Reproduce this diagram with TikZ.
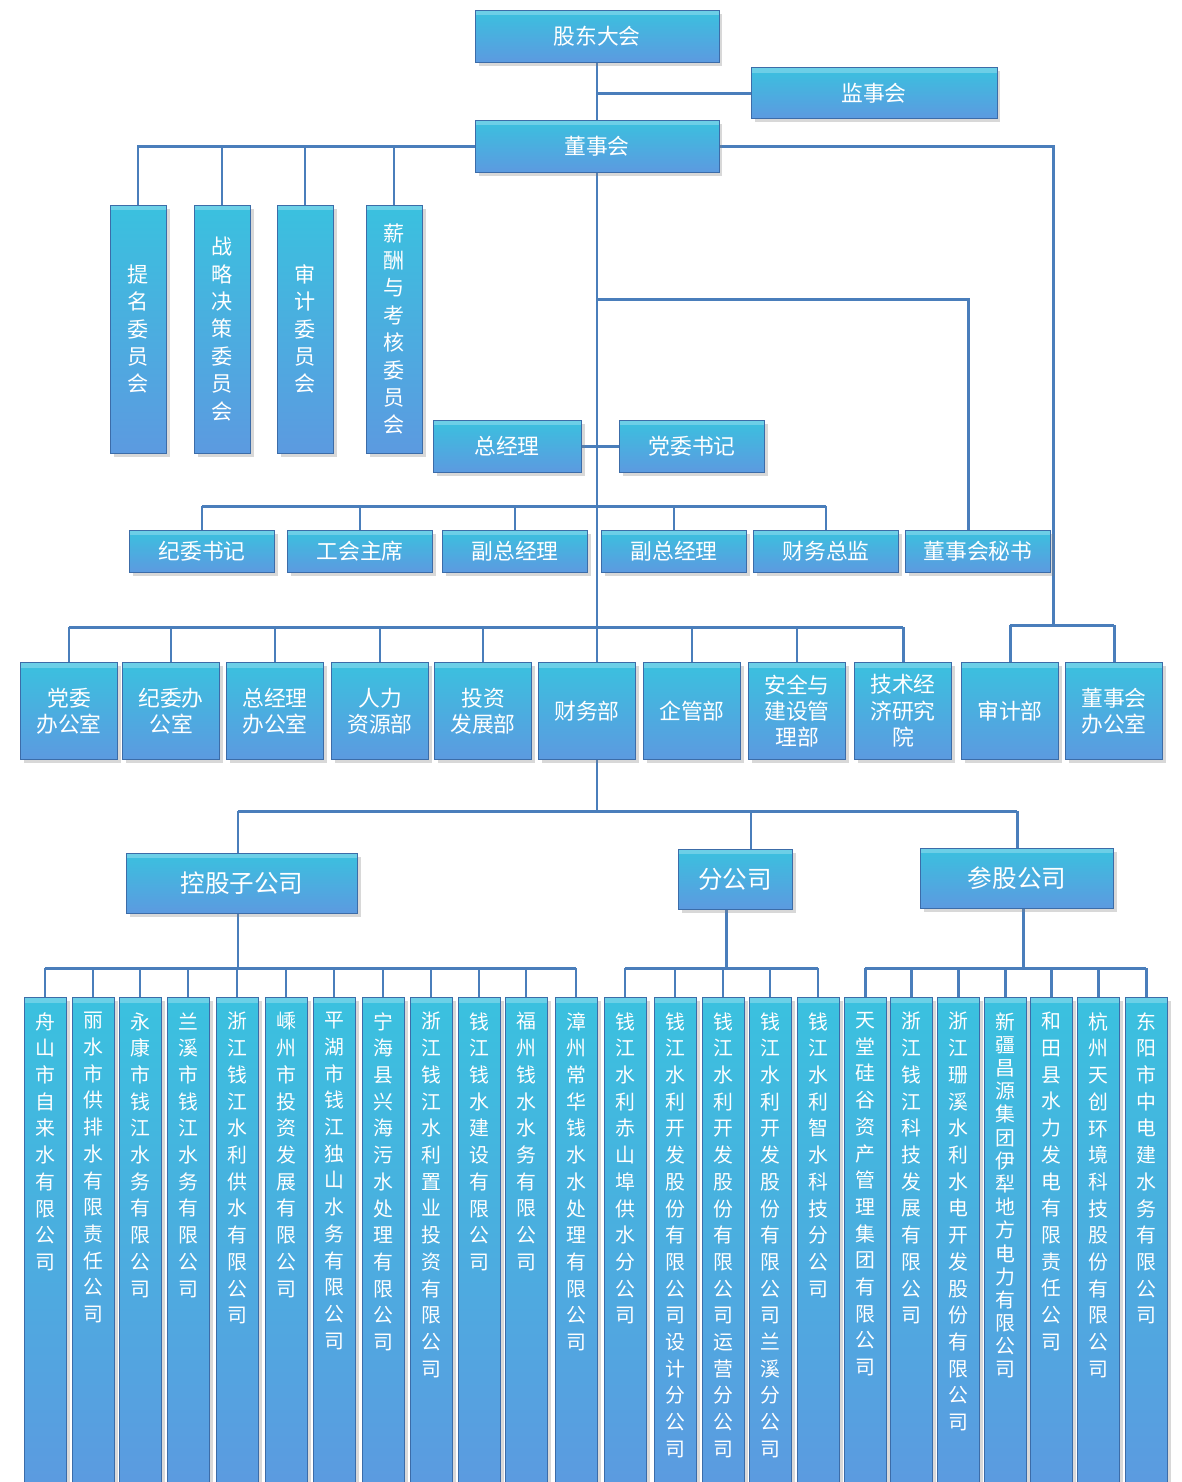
\documentclass[tikz,border=0pt]{standalone}
\usepackage{fontspec}
\setmainfont{Noto Sans CJK SC}
\usepackage{tikz}
\usetikzlibrary{shadows,backgrounds,calc}

\definecolor{boxtop}{RGB}{58,193,223}
\definecolor{boxbot}{RGB}{92,154,224}
\definecolor{boxedge}{RGB}{60,108,168}
\definecolor{wirecol}{RGB}{74,126,187}

% one character per line
\def\vchars#1{\vcharsi#1\relax}
\def\vcharsi#1#2{#1\ifx\relax#2\else\\\expandafter\vcharsi\expandafter#2\fi}

\begin{document}
\begin{tikzpicture}[x=0.02cm, y=-0.02cm,
    box/.style={draw=boxedge, line width=0.4pt, top color=boxtop, bottom color=boxbot,
        text=white, inner sep=0pt, align=center,
        drop shadow={opacity=0.3, shadow xshift=2pt, shadow yshift=-2pt},
        path picture={\fill[white, opacity=0.25] (path picture bounding box.north west)
            rectangle ([yshift=-3pt]path picture bounding box.north east);}},
    wire/.style={draw=wirecol, line width=1.7pt},
    vtext/.style={text=white, inner sep=0pt, align=center},
    big/.style={font=\fontsize{12.4}{15}\selectfont},
    head/.style={font=\fontsize{14}{16}\selectfont}]
    \useasboundingbox (0,0) rectangle (1181,1482);

    % top
    \node[box, big, minimum width=4.88cm, minimum height=1.04cm] (gddh) at (597,36) {股东大会};
    \node[box, big, minimum width=4.92cm, minimum height=1.02cm] (jsh) at (874,93) {监事会};
    \node[box, big, minimum width=4.88cm, minimum height=1.04cm] (dsh) at (597,146) {董事会};

    \foreach \nm/\x/\txt in {c1/138/提名委员会,c2/222/战略决策委员会,c3/305/审计委员会,c4/394/薪酬与考核委员会}{
        \node[box, minimum width=1.12cm, minimum height=4.96cm, font=\fontsize{12}{15.6}\selectfont]
            (\nm) at (\x,329) {\expandafter\vchars\expandafter{\txt}};
    }

    \node[box, big, minimum width=2.96cm, minimum height=1.04cm] (zjl) at (507,446) {总经理};
    \node[box, big, minimum width=2.9cm, minimum height=1.04cm] (dwsj) at (692,446) {党委书记};

    \foreach \nm/\x/\txt in {r1/202/纪委书记,r2/360/工会主席,r3/515/副总经理,r4/674/副总经理,r5/826/财务总监,r6/978/董事会秘书}{
        \node[box, big, minimum width=2.9cm, minimum height=0.84cm] (\nm) at (\x,551) {\txt};
    }

    % departments
    \foreach \nm/\x/\txt in {d1/69/{党委\\办公室},d2/171/{纪委办\\公室},d3/275/{总经理\\办公室},d4/380/{人力\\资源部},
        d5/483/{投资\\发展部},d6/587/财务部,d7/692/企管部,d8/797/{安全与\\建设管\\理部},
        d9/903/{技术经\\济研究\\院},d10/1010/审计部,d11/1114/{董事会\\办公室}}{
        \node[box, big, minimum width=1.95cm, minimum height=1.94cm] (\nm) at (\x,711) {\txt};
    }

    \node[box, head, minimum width=4.62cm, minimum height=1.2cm] (kgzgs) at (242,883) {控股子公司};
    \node[box, head, minimum width=2.28cm, minimum height=1.2cm] (fgs) at (735,879) {分公司};
    \node[box, head, minimum width=3.86cm, minimum height=1.2cm] (cggs) at (1017,878) {参股公司};

    % companies
    \foreach \nm/\x/\ls/\txt in {k1/45/15.2/舟山市自来水有限公司,k2/93/15.2/丽水市供排水有限责任公司,
        k3/140/15.2/永康市钱江水务有限公司,k4/188/15.2/兰溪市钱江水务有限公司,
        k5/237/15.2/浙江钱江水利供水有限公司,k6/286/15.2/嵊州市投资发展有限公司,
        k7/334/15.2/平湖市钱江独山水务有限公司,k8/383/15.2/宁海县兴海污水处理有限公司,
        k9/431/15.2/浙江钱江水利置业投资有限公司,k10/479/15.2/钱江钱水建设有限公司,
        k11/526/15.2/福州钱水水务有限公司,k12/576/15.2/漳州常华钱水水处理有限公司,
        f1/625/15.2/钱江水利赤山埠供水分公司,f2/675/15.2/钱江水利开发股份有限公司设计分公司,
        f3/723/15.2/钱江水利开发股份有限公司运营分公司,f4/770/15.2/钱江水利开发股份有限公司兰溪分公司,
        f5/818/15.2/钱江水利智水科技分公司,
        p1/865/15.2/天堂硅谷资产管理集团有限公司,p2/911/15.2/浙江钱江科技发展有限公司,
        p3/958/15.2/浙江珊溪水利水电开发股份有限公司,p4/1005/13.2/新疆昌源集团伊犁地方电力有限公司,
        p5/1051/15.2/和田县水力发电有限责任公司,p6/1098/15.2/杭州天创环境科技股份有限公司,
        p7/1146/15.2/东阳市中电建水务有限公司}{
        \node[box, minimum width=0.84cm, minimum height=9.9cm, anchor=north] (\nm) at (\x,997) {};
        \node[vtext, anchor=north, font=\fontsize{11.3}{\ls}\selectfont] (\nm-t)
            at ([yshift=-0.3cm]\nm.north) {\expandafter\vchars\expandafter{\txt}};
    }

    \begin{scope}[on background layer]
        \fill[white] (0,0) rectangle (1181,1482);
        \coordinate (mj) at (597,299);
        \coordinate (rb) at (597,506);
        \coordinate (db) at (597,627);
        \coordinate (tb) at (597,811);
        \coordinate (ajb) at (1053,625);
        \coordinate (gb) at (0,968);
        \coordinate (kgt) at ([xshift=-0.08cm]kgzgs.north);
        \coordinate (kgb) at ([xshift=-0.08cm]kgzgs.south);
        \coordinate (fgt) at ([xshift=0.32cm]fgs.north);
        \coordinate (fgb) at ([xshift=-0.18cm]fgs.south);
        \coordinate (cgt) at (cggs.north);
        \coordinate (cgb) at ([xshift=0.13cm]cggs.south);

        \draw[wire] (gddh.south) -- (dsh.north);
        \draw[wire] (gddh.south |- jsh.west) -- (jsh.west);
        \draw[wire] (dsh.west) -| (c1.north);
        \foreach \c in {c2,c3,c4}
            \draw[wire] (dsh.west -| \c.north) -- (\c.north);
        \draw[wire] (dsh.east) -| (ajb);
        \draw[wire] (d10.north |- ajb) -- (d11.north |- ajb);
        \foreach \d in {d10,d11}
            \draw[wire] (\d.north |- ajb) -- (\d.north);

        \draw[wire] (dsh.south) -- (tb);
        \draw[wire] (mj) -| ([xshift=-0.2cm]r6.north);
        \draw[wire] (zjl.east) -- (dwsj.west);
        \draw[wire] (r1.north |- rb) -- (r5.north |- rb);
        \foreach \i in {1,...,5}
            \draw[wire] (r\i.north |- rb) -- (r\i.north);
        \draw[wire] (d1.north |- db) -- (d9.north |- db);
        \foreach \i in {1,2,3,4,5,7,8,9}
            \draw[wire] (d\i.north |- db) -- (d\i.north);

        \draw[wire] (kgt |- tb) -- (cgt |- tb);
        \foreach \c in {kgt,fgt,cgt}
            \draw[wire] (\c |- tb) -- (\c);

        \draw[wire] (kgb) -- (kgb |- gb);
        \draw[wire] (k1.north |- gb) -- (k12.north |- gb);
        \foreach \i in {1,...,12}
            \draw[wire] (k\i.north |- gb) -- (k\i.north);
        \draw[wire] (fgb) -- (fgb |- gb);
        \draw[wire] (f1.north |- gb) -- (f5.north |- gb);
        \foreach \i in {1,...,5}
            \draw[wire] (f\i.north |- gb) -- (f\i.north);
        \draw[wire] (cgb) -- (cgb |- gb);
        \draw[wire] (p1.north |- gb) -- (p7.north |- gb);
        \foreach \i in {1,...,7}
            \draw[wire] (p\i.north |- gb) -- (p\i.north);
    \end{scope}
\end{tikzpicture}
\end{document}
